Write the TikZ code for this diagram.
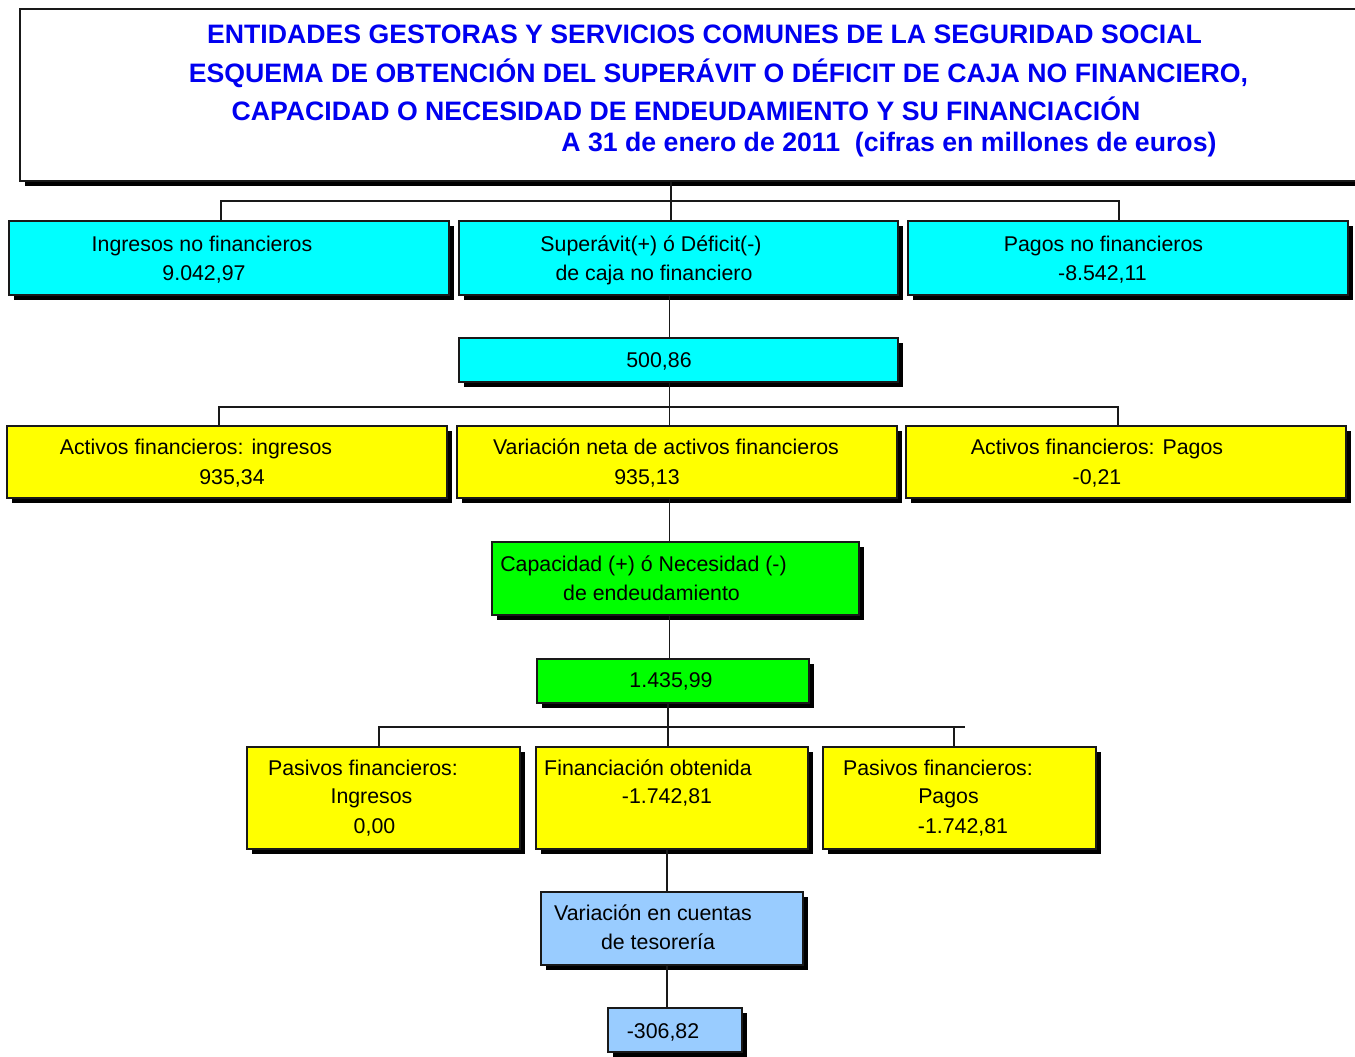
\documentclass[tikz,border=0pt]{standalone}
\usepackage{fontspec}
\setmainfont{Liberation Sans}
\usetikzlibrary{shadows}
\definecolor{cyanbox}{RGB}{0,255,255}
\definecolor{yellowbox}{RGB}{255,255,0}
\definecolor{greenbox}{RGB}{0,255,0}
\definecolor{bluebox}{RGB}{153,204,255}
\definecolor{titleblue}{RGB}{0,0,240}
\begin{document}
\begin{tikzpicture}[x=0.75pt,y=-0.75pt,
  box/.style={draw=black!90, line width=1pt, inner sep=0pt, outer sep=0pt,
    drop shadow={shadow xshift=3.4pt, shadow yshift=-3.4pt, fill=black, opacity=1}},
  conn/.style={draw=black!90, line width=1pt},
  txt/.style={font=\fontsize{16pt}{19pt}\selectfont, inner sep=0pt, anchor=base, text=black},
  ttl/.style={font=\fontsize{20pt}{24pt}\selectfont\bfseries, inner sep=0pt, anchor=base, text=titleblue}]
\useasboundingbox (0,0) rectangle (1355,1056);
\fill[white] (0,0) rectangle (1355,1056);

% title
\node[box, fill=white, minimum width=1005pt, minimum height=129pt] (title) at (690,95) {};
\node[ttl] (t1) at (704.5,43.3) {ENTIDADES GESTORAS Y SERVICIOS COMUNES DE LA SEGURIDAD SOCIAL};
\node[ttl] (t2) at (718.5,82.7) {ESQUEMA DE OBTENCIÓN DEL SUPERÁVIT O DÉFICIT DE CAJA NO FINANCIERO,};
\node[ttl] (t3) at (686,120) {CAPACIDAD O NECESIDAD DE ENDEUDAMIENTO Y SU FINANCIACIÓN};
\node[ttl] (t4) at (889,151) {A 31 de enero de 2011\ \ (cifras en millones de euros)};

% row 1
\node[box, fill=cyanbox, minimum width=330pt, minimum height=55.5pt] (A) at (229,258) {};
\node[box, fill=cyanbox, minimum width=329.25pt, minimum height=55.5pt] (B) at (678.5,258) {};
\node[box, fill=cyanbox, minimum width=330pt, minimum height=55.5pt] (C) at (1128,258) {};
\node[txt] (tA1) at (202,251) {Ingresos no financieros};
\node[txt] (tA2) at (204,280) {9.042,97};
\node[txt] (tB1) at (651,251) {Superávit(+) ó Déficit(-)};
\node[txt] (tB2) at (654,280) {de caja no financiero};
\node[txt] (tC1) at (1103.5,251) {Pagos no financieros};
\node[txt] (tC2) at (1102.5,280) {-8.542,11};

\node[box, fill=cyanbox, minimum width=329.25pt, minimum height=33pt] (R1) at (678.5,360) {};
\node[txt] (tR1) at (659,367) {500,86};

% row 2
\node[box, fill=yellowbox, minimum width=330pt, minimum height=54pt] (D) at (227,462) {};
\node[box, fill=yellowbox, minimum width=330pt, minimum height=54pt] (E) at (677,462) {};
\node[box, fill=yellowbox, minimum width=330pt, minimum height=54pt] (F) at (1126,462) {};
\node[txt] (tD1) at (196,454.3) {Activos financieros: ingresos};
\node[txt] (tD2) at (232,484) {935,34};
\node[txt] (tE1) at (666,454.3) {Variación neta de activos financieros};
\node[txt] (tE2) at (647,484) {935,13};
\node[txt] (tF1) at (1097,454.3) {Activos financieros: Pagos};
\node[txt] (tF2) at (1097,484) {-0,21};

\node[box, fill=greenbox, minimum width=275.25pt, minimum height=54.75pt] (Gr) at (675.5,578.5) {};
\node[txt] (tGr1) at (643.5,571.7) {Capacidad (+) ó Necesidad (-)};
\node[txt] (tGr2) at (651.5,600) {de endeudamiento};

\node[box, fill=greenbox, minimum width=204pt, minimum height=33pt] (Gr2) at (673,681) {};
\node[txt] (tGr3) at (671,687) {1.435,99};

% row 3
\node[box, fill=yellowbox, minimum width=204.75pt, minimum height=76.5pt] (G) at (383.5,798) {};
\node[box, fill=yellowbox, minimum width=204pt, minimum height=76.5pt] (H) at (672,798) {};
\node[box, fill=yellowbox, minimum width=204.75pt, minimum height=76.5pt] (I) at (959.5,798) {};
\node[txt] (tG1) at (363,775) {Pasivos financieros:};
\node[txt] (tG2) at (371.5,803.5) {Ingresos};
\node[txt] (tG3) at (374.5,833) {0,00};
\node[txt] (tH1) at (648,775) {Financiación obtenida};
\node[txt] (tH2) at (667,803.5) {-1.742,81};
\node[txt] (tI1) at (938,775) {Pasivos financieros:};
\node[txt] (tI2) at (948.5,803.5) {Pagos};
\node[txt] (tI3) at (963,833) {-1.742,81};

\node[box, fill=bluebox, minimum width=196.5pt, minimum height=54.75pt] (Bl) at (672,928.5) {};
\node[txt] (tBl1) at (653,920) {Variación en cuentas};
\node[txt] (tBl2) at (658,949) {de tesorería};

\node[box, fill=bluebox, minimum width=100.5pt, minimum height=33pt] (Bl2) at (675,1030) {};
\node[txt] (tBl3) at (663,1038) {-306,82};

% connectors
\coordinate (k1) at (671,201);
\coordinate (k1l) at (221,201);
\coordinate (k1r) at (1119,201);
\draw[conn] (title.south -| k1) -- (B.north -| k1);
\draw[conn] (A.north -| k1l) |- (k1r) -- (C.north -| k1r);

\coordinate (k2) at (669.5,407);
\coordinate (k2l) at (219,407);
\coordinate (k2r) at (1118,407);
\draw[conn] (B.south -| k2) -- (R1.north -| k2);
\draw[conn] (R1.south -| k2) -- (E.north -| k2);
\draw[conn] (D.north -| k2l) |- (k2r) -- (F.north -| k2r);

\draw[conn] (E.south -| k2) -- (Gr.north -| k2);
\draw[conn] (Gr.south -| k2) -- (Gr2.north -| k2);

\coordinate (k3) at (668,727);
\coordinate (k3l) at (379,727);
\coordinate (k3r) at (954,727);
\coordinate (k3e) at (965,727);
\draw[conn] (Gr2.south -| k3) -- (H.north -| k3);
\draw[conn] (G.north -| k3l) |- (k3e);
\draw[conn] (k3r) -- (I.north -| k3r);

\coordinate (k4) at (667,900);
\draw[conn] (H.south -| k4) -- (Bl.north -| k4);
\draw[conn] (Bl.south -| k4) -- (Bl2.north -| k4);
\end{tikzpicture}
\end{document}
